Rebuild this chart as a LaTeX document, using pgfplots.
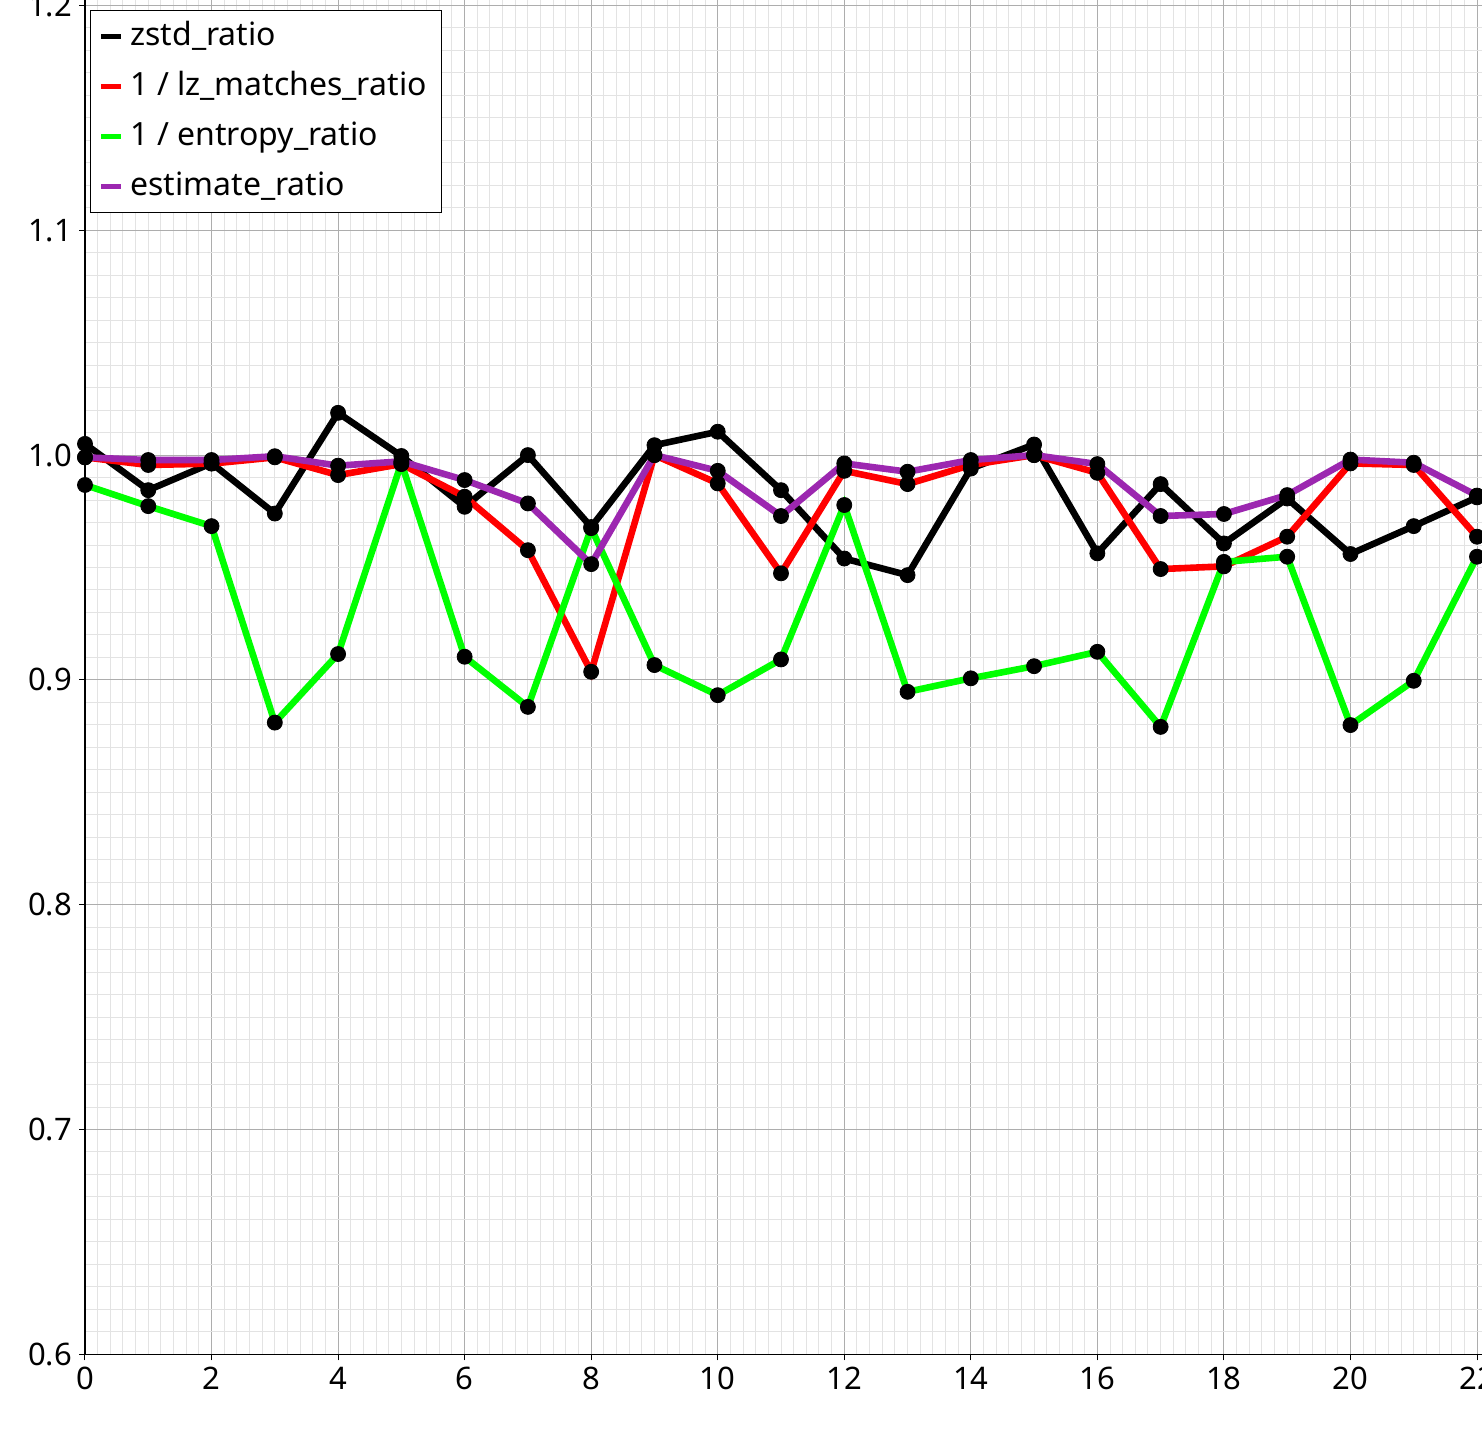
\documentclass[border=0pt]{standalone}
\usepackage{fontspec}
\setmainfont{Noto Sans}
\usepackage{pgfplots}
\usepackage{pgfplotstable}
\pgfplotsset{compat=1.18}
\definecolor{estpurple}{RGB}{156,39,176}
\definecolor{entgreen}{RGB}{0,255,0}
\definecolor{lzred}{RGB}{255,0,0}

% x, zstd_ratio, 1/lz_matches_ratio, 1/entropy_ratio, estimate_ratio
\pgfplotstableread{
x  zstd    lz      ent     est
0  1.0050  0.9990  0.9867  0.9990
1  0.9844  0.9956  0.9773  0.9978
2  0.9964  0.9962  0.9684  0.9978
3  0.9740  0.9990  0.8810  0.9995
4  1.0188  0.9911  0.9115  0.9953
5  0.9996  0.9960  0.9965  0.9972
6  0.9770  0.9815  0.9103  0.9889
7  1.0000  0.9577  0.8880  0.9785
8  0.9680  0.9036  0.9675  0.9515
9  1.0044  1.0000  0.9066  1.0000
10 1.0104  0.9874  0.8932  0.9930
11 0.9844  0.9474  0.9091  0.9729
12 0.9540  0.9930  0.9778  0.9963
13 0.9466  0.9871  0.8947  0.9926
14 0.9940  0.9956  0.9007  0.9978
15 1.0047  1.0000  0.9061  1.0000
16 0.9563  0.9921  0.9125  0.9960
17 0.9871  0.9493  0.8791  0.9729
18 0.9607  0.9505  0.9525  0.9738
19 0.9807  0.9637  0.9548  0.9822
20 0.9560  0.9963  0.8799  0.9980
21 0.9684  0.9956  0.8996  0.9966
22 0.9812  0.9637  0.9548  0.9820
}\ratios

\begin{document}
\begin{tikzpicture}
\begin{axis}[
    x=31.636pt, y=1124pt,
    xmin=0, xmax=23, ymin=0.6, ymax=1.25,
    axis lines*=left,
    axis line style={black, line width=0.8pt},
    xtick={0,2,...,22},
    ytick={0.6,0.7,0.8,0.9,1.0,1.1,1.2},
    minor x tick num=9, minor y tick num=9,
    grid=both,
    major grid style={line width=0.5pt, color=black!32},
    minor grid style={line width=0.5pt, color=black!11},
    tick align=outside,
    major tick length=3pt, minor tick length=0pt,
    tick style={black, line width=0.5pt},
    ticklabel style={font=\fontsize{15.5}{18}\selectfont},
    /pgf/number format/assume math mode=true,
    yticklabel style={/pgf/number format/fixed,
        /pgf/number format/precision=1,
        /pgf/number format/fixed zerofill},
    legend style={at={(0,0.923077)}, anchor=north west,
        xshift=2.5pt, yshift=-2.5pt,
        draw=black, line width=0.5pt, fill=white,
        font=\fontsize{16}{19}\selectfont,
        inner xsep=4pt, inner ysep=4pt, row sep=7pt,
        nodes={inner xsep=3.5pt, inner ysep=0pt,
            text height=13.5pt, text depth=4.5pt}},
    legend cell align=left,
    legend image code/.code={\draw[line width=2.5pt] (0pt,0pt) -- (10pt,0pt);},
]
\coordinate (O) at (axis cs:0,0.6);

\addplot[black, line width=3.3pt] table[x=x, y=zstd] {\ratios};
\addlegendentry{zstd\_ratio}
\addplot[lzred, line width=3.3pt] table[x=x, y=lz] {\ratios};
\addlegendentry{1 / lz\_matches\_ratio}
\addplot[entgreen, line width=3.3pt] table[x=x, y=ent] {\ratios};
\addlegendentry{1 / entropy\_ratio}
\addplot[estpurple, line width=3.3pt] table[x=x, y=est] {\ratios};
\addlegendentry{estimate\_ratio}

% black dots on every series
\addplot[only marks, mark=*, mark size=3.75pt, black, forget plot] table[x=x, y=zstd] {\ratios};
\addplot[only marks, mark=*, mark size=3.75pt, black, forget plot] table[x=x, y=lz] {\ratios};
\addplot[only marks, mark=*, mark size=3.75pt, black, forget plot] table[x=x, y=ent] {\ratios};
\addplot[only marks, mark=*, mark size=3.75pt, black, forget plot] table[x=x, y=est] {\ratios};
\end{axis}
\pgfresetboundingbox
\path[use as bounding box] ([shift={(-42.5pt,-42.85pt)}]O) rectangle ++(741pt,720pt);
\end{tikzpicture}
\end{document}
